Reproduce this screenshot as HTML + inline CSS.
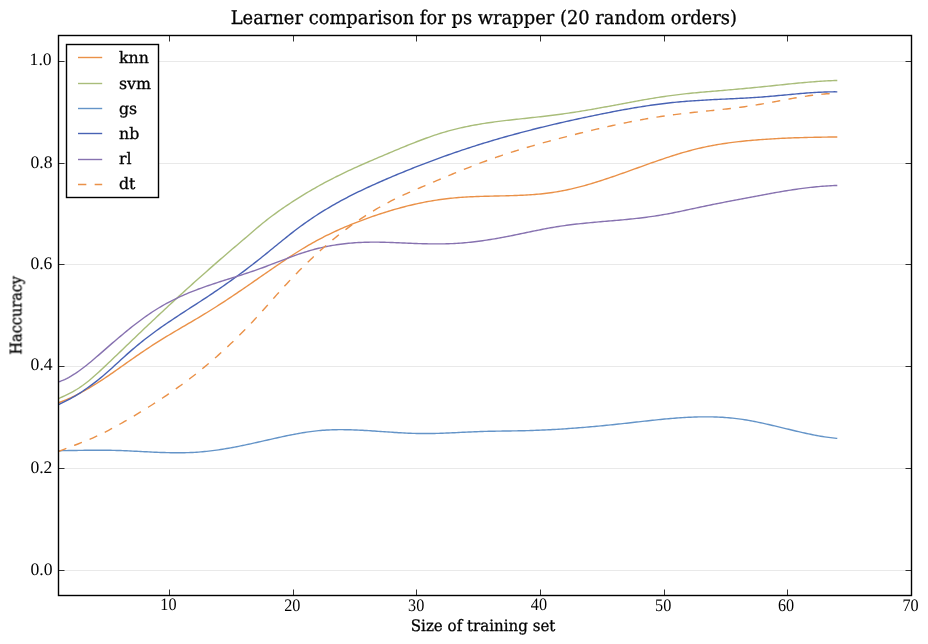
<!DOCTYPE html>
<html lang="en"><head><meta charset="utf-8"><title>Learner comparison for ps wrapper (20 random orders)</title>
<style>html,body{margin:0;padding:0;background:#fff}svg{display:block}text{text-rendering:geometricPrecision}.lab{font-family:"DejaVu Serif","Liberation Serif",serif;fill:#000;stroke:#000;stroke-width:0.3px}.num{font-family:"Liberation Serif","DejaVu Serif",serif;fill:#000}</style></head><body>
<svg width="928" height="644" viewBox="0 0 928 644">
<rect width="928" height="644" fill="#fff"/>
<g stroke="#e9e9e9" stroke-width="1" shape-rendering="crispEdges">
<line x1="58.5" x2="911.5" y1="570.5" y2="570.5"/>
<line x1="58.5" x2="911.5" y1="468.5" y2="468.5"/>
<line x1="58.5" x2="911.5" y1="366.5" y2="366.5"/>
<line x1="58.5" x2="911.5" y1="264.5" y2="264.5"/>
<line x1="58.5" x2="911.5" y1="163.5" y2="163.5"/>
<line x1="58.5" x2="911.5" y1="61.5" y2="61.5"/>
</g>
<g fill="none" stroke-width="1.4" stroke-linecap="butt" stroke-linejoin="round">
<path d="M58.6,402.75 L60.6,402.02 L62.6,401.25 L64.6,400.44 L66.6,399.60 L68.6,398.73 L70.6,397.82 L72.6,396.89 L74.6,395.92 L76.6,394.92 L78.6,393.89 L80.6,392.83 L82.6,391.75 L84.6,390.64 L86.6,389.50 L88.6,388.34 L90.6,387.16 L92.6,385.95 L94.6,384.72 L96.6,383.47 L98.6,382.20 L100.6,380.91 L102.6,379.60 L104.6,378.28 L106.6,376.93 L108.6,375.58 L110.6,374.20 L112.6,372.82 L114.6,371.42 L116.6,370.02 L118.6,368.60 L120.6,367.19 L122.6,365.77 L124.6,364.35 L126.6,362.93 L128.6,361.52 L130.6,360.11 L132.6,358.70 L134.6,357.31 L136.6,355.92 L138.6,354.55 L140.6,353.18 L142.6,351.82 L144.6,350.47 L146.6,349.14 L148.6,347.81 L150.6,346.50 L152.6,345.20 L154.6,343.91 L156.6,342.64 L158.6,341.38 L160.6,340.13 L162.6,338.90 L164.6,337.67 L166.6,336.46 L168.6,335.25 L170.6,334.05 L172.6,332.86 L174.6,331.67 L176.6,330.49 L178.6,329.31 L180.6,328.14 L182.6,326.97 L184.6,325.80 L186.6,324.63 L188.6,323.46 L190.6,322.28 L192.6,321.11 L194.6,319.93 L196.6,318.75 L198.6,317.56 L200.6,316.37 L202.6,315.17 L204.6,313.96 L206.6,312.74 L208.6,311.51 L210.6,310.27 L212.6,309.02 L214.6,307.76 L216.6,306.49 L218.6,305.21 L220.6,303.92 L222.6,302.62 L224.6,301.31 L226.6,299.99 L228.6,298.67 L230.6,297.34 L232.6,296.00 L234.6,294.65 L236.6,293.30 L238.6,291.95 L240.6,290.58 L242.6,289.22 L244.6,287.85 L246.6,286.47 L248.6,285.10 L250.6,283.71 L252.6,282.33 L254.6,280.95 L256.6,279.56 L258.6,278.17 L260.6,276.78 L262.6,275.39 L264.6,274.00 L266.6,272.61 L268.6,271.23 L270.6,269.84 L272.6,268.46 L274.6,267.09 L276.6,265.72 L278.6,264.36 L280.6,263.00 L282.6,261.65 L284.6,260.31 L286.6,258.98 L288.6,257.66 L290.6,256.35 L292.6,255.05 L294.6,253.77 L296.6,252.50 L298.6,251.24 L300.6,249.99 L302.6,248.77 L304.6,247.56 L306.6,246.36 L308.6,245.19 L310.6,244.03 L312.6,242.89 L314.6,241.78 L316.6,240.68 L318.6,239.61 L320.6,238.55 L322.6,237.51 L324.6,236.49 L326.6,235.49 L328.6,234.51 L330.6,233.54 L332.6,232.60 L334.6,231.66 L336.6,230.75 L338.6,229.84 L340.6,228.96 L342.6,228.09 L344.6,227.23 L346.6,226.38 L348.6,225.55 L350.6,224.73 L352.6,223.93 L354.6,223.13 L356.6,222.35 L358.6,221.58 L360.6,220.82 L362.6,220.07 L364.6,219.32 L366.6,218.59 L368.6,217.87 L370.6,217.16 L372.6,216.45 L374.6,215.76 L376.6,215.08 L378.6,214.41 L380.6,213.75 L382.6,213.10 L384.6,212.46 L386.6,211.83 L388.6,211.21 L390.6,210.61 L392.6,210.01 L394.6,209.43 L396.6,208.86 L398.6,208.30 L400.6,207.75 L402.6,207.22 L404.6,206.70 L406.6,206.19 L408.6,205.69 L410.6,205.20 L412.6,204.73 L414.6,204.27 L416.6,203.83 L418.6,203.39 L420.6,202.97 L422.6,202.57 L424.6,202.17 L426.6,201.80 L428.6,201.43 L430.6,201.08 L432.6,200.74 L434.6,200.41 L436.6,200.10 L438.6,199.80 L440.6,199.51 L442.6,199.24 L444.6,198.98 L446.6,198.74 L448.6,198.51 L450.6,198.29 L452.6,198.08 L454.6,197.89 L456.6,197.72 L458.6,197.55 L460.6,197.40 L462.6,197.26 L464.6,197.13 L466.6,197.01 L468.6,196.90 L470.6,196.80 L472.6,196.70 L474.6,196.62 L476.6,196.54 L478.6,196.47 L480.6,196.40 L482.6,196.34 L484.6,196.29 L486.6,196.23 L488.6,196.18 L490.6,196.14 L492.6,196.09 L494.6,196.05 L496.6,196.01 L498.6,195.96 L500.6,195.92 L502.6,195.87 L504.6,195.83 L506.6,195.78 L508.6,195.73 L510.6,195.67 L512.6,195.61 L514.6,195.54 L516.6,195.47 L518.6,195.40 L520.6,195.31 L522.6,195.22 L524.6,195.12 L526.6,195.01 L528.6,194.89 L530.6,194.76 L532.6,194.62 L534.6,194.47 L536.6,194.30 L538.6,194.13 L540.6,193.94 L542.6,193.73 L544.6,193.52 L546.6,193.28 L548.6,193.03 L550.6,192.77 L552.6,192.48 L554.6,192.18 L556.6,191.86 L558.6,191.52 L560.6,191.16 L562.6,190.79 L564.6,190.39 L566.6,189.98 L568.6,189.55 L570.6,189.10 L572.6,188.64 L574.6,188.16 L576.6,187.67 L578.6,187.16 L580.6,186.63 L582.6,186.10 L584.6,185.55 L586.6,184.99 L588.6,184.41 L590.6,183.83 L592.6,183.23 L594.6,182.62 L596.6,182.00 L598.6,181.37 L600.6,180.73 L602.6,180.09 L604.6,179.43 L606.6,178.77 L608.6,178.10 L610.6,177.42 L612.6,176.74 L614.6,176.05 L616.6,175.36 L618.6,174.66 L620.6,173.95 L622.6,173.25 L624.6,172.54 L626.6,171.82 L628.6,171.11 L630.6,170.39 L632.6,169.67 L634.6,168.95 L636.6,168.23 L638.6,167.51 L640.6,166.79 L642.6,166.07 L644.6,165.35 L646.6,164.64 L648.6,163.92 L650.6,163.21 L652.6,162.51 L654.6,161.81 L656.6,161.11 L658.6,160.42 L660.6,159.73 L662.6,159.05 L664.6,158.38 L666.6,157.71 L668.6,157.05 L670.6,156.40 L672.6,155.76 L674.6,155.12 L676.6,154.50 L678.6,153.89 L680.6,153.29 L682.6,152.69 L684.6,152.12 L686.6,151.55 L688.6,151.00 L690.6,150.46 L692.6,149.93 L694.6,149.42 L696.6,148.92 L698.6,148.44 L700.6,147.97 L702.6,147.52 L704.6,147.09 L706.6,146.66 L708.6,146.26 L710.6,145.87 L712.6,145.49 L714.6,145.12 L716.6,144.77 L718.6,144.43 L720.6,144.11 L722.6,143.79 L724.6,143.49 L726.6,143.20 L728.6,142.92 L730.6,142.65 L732.6,142.39 L734.6,142.14 L736.6,141.90 L738.6,141.67 L740.6,141.44 L742.6,141.23 L744.6,141.02 L746.6,140.82 L748.6,140.63 L750.6,140.45 L752.6,140.27 L754.6,140.10 L756.6,139.94 L758.6,139.78 L760.6,139.63 L762.6,139.48 L764.6,139.34 L766.6,139.20 L768.6,139.08 L770.6,138.95 L772.6,138.83 L774.6,138.72 L776.6,138.61 L778.6,138.50 L780.6,138.40 L782.6,138.31 L784.6,138.22 L786.6,138.13 L788.6,138.05 L790.6,137.97 L792.6,137.90 L794.6,137.82 L796.6,137.76 L798.6,137.69 L800.6,137.63 L802.6,137.58 L804.6,137.52 L806.6,137.47 L808.6,137.42 L810.6,137.37 L812.6,137.33 L814.6,137.29 L816.6,137.25 L818.6,137.21 L820.6,137.18 L822.6,137.14 L824.6,137.11 L826.6,137.08 L828.6,137.05 L830.6,137.03 L832.6,137.00 L834.6,136.97 L836.6,136.95 L837.3,136.94" stroke="#ea9148"/>
<path d="M58.6,398.53 L60.6,397.65 L62.6,396.75 L64.6,395.82 L66.6,394.87 L68.6,393.89 L70.6,392.86 L72.6,391.79 L74.6,390.67 L76.6,389.49 L78.6,388.24 L80.6,386.92 L82.6,385.53 L84.6,384.06 L86.6,382.53 L88.6,380.93 L90.6,379.28 L92.6,377.57 L94.6,375.83 L96.6,374.04 L98.6,372.22 L100.6,370.37 L102.6,368.51 L104.6,366.62 L106.6,364.73 L108.6,362.83 L110.6,360.93 L112.6,359.02 L114.6,357.11 L116.6,355.20 L118.6,353.28 L120.6,351.37 L122.6,349.45 L124.6,347.53 L126.6,345.60 L128.6,343.68 L130.6,341.76 L132.6,339.84 L134.6,337.92 L136.6,336.00 L138.6,334.09 L140.6,332.17 L142.6,330.26 L144.6,328.36 L146.6,326.46 L148.6,324.56 L150.6,322.67 L152.6,320.78 L154.6,318.89 L156.6,317.01 L158.6,315.13 L160.6,313.26 L162.6,311.39 L164.6,309.53 L166.6,307.67 L168.6,305.81 L170.6,303.96 L172.6,302.12 L174.6,300.27 L176.6,298.44 L178.6,296.60 L180.6,294.77 L182.6,292.95 L184.6,291.13 L186.6,289.31 L188.6,287.50 L190.6,285.69 L192.6,283.89 L194.6,282.09 L196.6,280.30 L198.6,278.51 L200.6,276.73 L202.6,274.95 L204.6,273.17 L206.6,271.40 L208.6,269.64 L210.6,267.88 L212.6,266.12 L214.6,264.37 L216.6,262.62 L218.6,260.88 L220.6,259.14 L222.6,257.41 L224.6,255.69 L226.6,253.96 L228.6,252.25 L230.6,250.53 L232.6,248.82 L234.6,247.12 L236.6,245.42 L238.6,243.73 L240.6,242.03 L242.6,240.34 L244.6,238.63 L246.6,236.93 L248.6,235.21 L250.6,233.49 L252.6,231.76 L254.6,230.04 L256.6,228.33 L258.6,226.64 L260.6,224.97 L262.6,223.32 L264.6,221.71 L266.6,220.12 L268.6,218.57 L270.6,217.04 L272.6,215.55 L274.6,214.07 L276.6,212.62 L278.6,211.19 L280.6,209.79 L282.6,208.40 L284.6,207.03 L286.6,205.68 L288.6,204.34 L290.6,203.02 L292.6,201.71 L294.6,200.42 L296.6,199.14 L298.6,197.88 L300.6,196.63 L302.6,195.39 L304.6,194.17 L306.6,192.96 L308.6,191.77 L310.6,190.59 L312.6,189.42 L314.6,188.27 L316.6,187.13 L318.6,186.01 L320.6,184.90 L322.6,183.80 L324.6,182.72 L326.6,181.65 L328.6,180.59 L330.6,179.55 L332.6,178.52 L334.6,177.50 L336.6,176.50 L338.6,175.51 L340.6,174.52 L342.6,173.56 L344.6,172.60 L346.6,171.65 L348.6,170.71 L350.6,169.78 L352.6,168.86 L354.6,167.94 L356.6,167.04 L358.6,166.14 L360.6,165.25 L362.6,164.37 L364.6,163.49 L366.6,162.61 L368.6,161.75 L370.6,160.88 L372.6,160.02 L374.6,159.17 L376.6,158.32 L378.6,157.47 L380.6,156.62 L382.6,155.77 L384.6,154.93 L386.6,154.09 L388.6,153.24 L390.6,152.40 L392.6,151.56 L394.6,150.72 L396.6,149.88 L398.6,149.05 L400.6,148.22 L402.6,147.39 L404.6,146.57 L406.6,145.75 L408.6,144.94 L410.6,144.13 L412.6,143.34 L414.6,142.55 L416.6,141.76 L418.6,140.99 L420.6,140.23 L422.6,139.48 L424.6,138.74 L426.6,138.01 L428.6,137.29 L430.6,136.58 L432.6,135.89 L434.6,135.21 L436.6,134.55 L438.6,133.90 L440.6,133.27 L442.6,132.66 L444.6,132.06 L446.6,131.48 L448.6,130.92 L450.6,130.37 L452.6,129.84 L454.6,129.33 L456.6,128.84 L458.6,128.36 L460.6,127.90 L462.6,127.45 L464.6,127.01 L466.6,126.59 L468.6,126.19 L470.6,125.79 L472.6,125.41 L474.6,125.04 L476.6,124.69 L478.6,124.34 L480.6,124.01 L482.6,123.68 L484.6,123.37 L486.6,123.06 L488.6,122.76 L490.6,122.48 L492.6,122.20 L494.6,121.92 L496.6,121.66 L498.6,121.40 L500.6,121.15 L502.6,120.90 L504.6,120.66 L506.6,120.42 L508.6,120.19 L510.6,119.96 L512.6,119.74 L514.6,119.51 L516.6,119.29 L518.6,119.08 L520.6,118.86 L522.6,118.65 L524.6,118.43 L526.6,118.22 L528.6,118.00 L530.6,117.79 L532.6,117.57 L534.6,117.36 L536.6,117.14 L538.6,116.92 L540.6,116.69 L542.6,116.46 L544.6,116.23 L546.6,115.99 L548.6,115.75 L550.6,115.51 L552.6,115.26 L554.6,115.00 L556.6,114.74 L558.6,114.48 L560.6,114.21 L562.6,113.94 L564.6,113.66 L566.6,113.38 L568.6,113.09 L570.6,112.79 L572.6,112.49 L574.6,112.19 L576.6,111.88 L578.6,111.57 L580.6,111.25 L582.6,110.92 L584.6,110.59 L586.6,110.26 L588.6,109.92 L590.6,109.57 L592.6,109.22 L594.6,108.87 L596.6,108.51 L598.6,108.16 L600.6,107.79 L602.6,107.43 L604.6,107.06 L606.6,106.69 L608.6,106.32 L610.6,105.95 L612.6,105.57 L614.6,105.20 L616.6,104.82 L618.6,104.45 L620.6,104.07 L622.6,103.69 L624.6,103.32 L626.6,102.95 L628.6,102.57 L630.6,102.20 L632.6,101.84 L634.6,101.47 L636.6,101.10 L638.6,100.74 L640.6,100.38 L642.6,100.03 L644.6,99.68 L646.6,99.33 L648.6,98.99 L650.6,98.65 L652.6,98.32 L654.6,97.99 L656.6,97.67 L658.6,97.35 L660.6,97.04 L662.6,96.74 L664.6,96.44 L666.6,96.15 L668.6,95.87 L670.6,95.59 L672.6,95.33 L674.6,95.07 L676.6,94.82 L678.6,94.57 L680.6,94.34 L682.6,94.11 L684.6,93.89 L686.6,93.67 L688.6,93.46 L690.6,93.26 L692.6,93.06 L694.6,92.87 L696.6,92.68 L698.6,92.49 L700.6,92.31 L702.6,92.13 L704.6,91.96 L706.6,91.78 L708.6,91.61 L710.6,91.44 L712.6,91.27 L714.6,91.10 L716.6,90.94 L718.6,90.77 L720.6,90.60 L722.6,90.43 L724.6,90.27 L726.6,90.09 L728.6,89.92 L730.6,89.75 L732.6,89.58 L734.6,89.40 L736.6,89.22 L738.6,89.04 L740.6,88.86 L742.6,88.68 L744.6,88.50 L746.6,88.31 L748.6,88.12 L750.6,87.94 L752.6,87.74 L754.6,87.55 L756.6,87.36 L758.6,87.16 L760.6,86.96 L762.6,86.76 L764.6,86.56 L766.6,86.35 L768.6,86.15 L770.6,85.94 L772.6,85.73 L774.6,85.52 L776.6,85.31 L778.6,85.10 L780.6,84.89 L782.6,84.68 L784.6,84.47 L786.6,84.26 L788.6,84.05 L790.6,83.85 L792.6,83.65 L794.6,83.45 L796.6,83.25 L798.6,83.06 L800.6,82.87 L802.6,82.69 L804.6,82.51 L806.6,82.33 L808.6,82.16 L810.6,81.99 L812.6,81.84 L814.6,81.68 L816.6,81.54 L818.6,81.40 L820.6,81.26 L822.6,81.14 L824.6,81.02 L826.6,80.91 L828.6,80.81 L830.6,80.72 L832.6,80.64 L834.6,80.57 L836.6,80.50 L837.3,80.48" stroke="#a9bd7a"/>
<path d="M58.6,450.70 L60.6,450.68 L62.6,450.65 L64.6,450.63 L66.6,450.60 L68.6,450.57 L70.6,450.53 L72.6,450.50 L74.6,450.47 L76.6,450.43 L78.6,450.40 L80.6,450.37 L82.6,450.34 L84.6,450.31 L86.6,450.28 L88.6,450.26 L90.6,450.23 L92.6,450.22 L94.6,450.20 L96.6,450.19 L98.6,450.19 L100.6,450.19 L102.6,450.20 L104.6,450.21 L106.6,450.23 L108.6,450.25 L110.6,450.29 L112.6,450.33 L114.6,450.38 L116.6,450.44 L118.6,450.50 L120.6,450.57 L122.6,450.65 L124.6,450.73 L126.6,450.82 L128.6,450.91 L130.6,451.00 L132.6,451.10 L134.6,451.20 L136.6,451.30 L138.6,451.40 L140.6,451.50 L142.6,451.60 L144.6,451.71 L146.6,451.81 L148.6,451.91 L150.6,452.00 L152.6,452.10 L154.6,452.18 L156.6,452.27 L158.6,452.35 L160.6,452.43 L162.6,452.50 L164.6,452.56 L166.6,452.62 L168.6,452.66 L170.6,452.70 L172.6,452.74 L174.6,452.76 L176.6,452.77 L178.6,452.77 L180.6,452.76 L182.6,452.74 L184.6,452.71 L186.6,452.66 L188.6,452.60 L190.6,452.53 L192.6,452.44 L194.6,452.33 L196.6,452.21 L198.6,452.08 L200.6,451.92 L202.6,451.75 L204.6,451.57 L206.6,451.36 L208.6,451.15 L210.6,450.91 L212.6,450.66 L214.6,450.40 L216.6,450.12 L218.6,449.83 L220.6,449.53 L222.6,449.21 L224.6,448.89 L226.6,448.55 L228.6,448.20 L230.6,447.84 L232.6,447.47 L234.6,447.10 L236.6,446.71 L238.6,446.32 L240.6,445.91 L242.6,445.51 L244.6,445.09 L246.6,444.67 L248.6,444.24 L250.6,443.81 L252.6,443.37 L254.6,442.93 L256.6,442.48 L258.6,442.04 L260.6,441.59 L262.6,441.13 L264.6,440.68 L266.6,440.22 L268.6,439.77 L270.6,439.31 L272.6,438.86 L274.6,438.41 L276.6,437.96 L278.6,437.52 L280.6,437.08 L282.6,436.65 L284.6,436.22 L286.6,435.80 L288.6,435.39 L290.6,434.98 L292.6,434.59 L294.6,434.21 L296.6,433.83 L298.6,433.47 L300.6,433.12 L302.6,432.78 L304.6,432.46 L306.6,432.15 L308.6,431.86 L310.6,431.59 L312.6,431.33 L314.6,431.09 L316.6,430.87 L318.6,430.66 L320.6,430.48 L322.6,430.32 L324.6,430.18 L326.6,430.05 L328.6,429.95 L330.6,429.86 L332.6,429.79 L334.6,429.73 L336.6,429.70 L338.6,429.67 L340.6,429.66 L342.6,429.67 L344.6,429.68 L346.6,429.71 L348.6,429.75 L350.6,429.81 L352.6,429.87 L354.6,429.94 L356.6,430.02 L358.6,430.11 L360.6,430.21 L362.6,430.32 L364.6,430.43 L366.6,430.55 L368.6,430.67 L370.6,430.80 L372.6,430.93 L374.6,431.06 L376.6,431.20 L378.6,431.34 L380.6,431.48 L382.6,431.62 L384.6,431.76 L386.6,431.90 L388.6,432.04 L390.6,432.17 L392.6,432.31 L394.6,432.44 L396.6,432.57 L398.6,432.69 L400.6,432.81 L402.6,432.92 L404.6,433.02 L406.6,433.12 L408.6,433.21 L410.6,433.29 L412.6,433.36 L414.6,433.42 L416.6,433.47 L418.6,433.51 L420.6,433.54 L422.6,433.56 L424.6,433.57 L426.6,433.56 L428.6,433.55 L430.6,433.52 L432.6,433.49 L434.6,433.45 L436.6,433.40 L438.6,433.34 L440.6,433.28 L442.6,433.21 L444.6,433.14 L446.6,433.06 L448.6,432.97 L450.6,432.89 L452.6,432.80 L454.6,432.70 L456.6,432.61 L458.6,432.51 L460.6,432.42 L462.6,432.32 L464.6,432.23 L466.6,432.13 L468.6,432.04 L470.6,431.95 L472.6,431.86 L474.6,431.77 L476.6,431.69 L478.6,431.61 L480.6,431.54 L482.6,431.48 L484.6,431.42 L486.6,431.36 L488.6,431.31 L490.6,431.26 L492.6,431.22 L494.6,431.18 L496.6,431.15 L498.6,431.12 L500.6,431.08 L502.6,431.06 L504.6,431.03 L506.6,431.00 L508.6,430.97 L510.6,430.94 L512.6,430.91 L514.6,430.88 L516.6,430.85 L518.6,430.81 L520.6,430.78 L522.6,430.74 L524.6,430.69 L526.6,430.64 L528.6,430.59 L530.6,430.53 L532.6,430.46 L534.6,430.39 L536.6,430.32 L538.6,430.24 L540.6,430.16 L542.6,430.07 L544.6,429.98 L546.6,429.89 L548.6,429.79 L550.6,429.68 L552.6,429.57 L554.6,429.46 L556.6,429.35 L558.6,429.23 L560.6,429.10 L562.6,428.97 L564.6,428.84 L566.6,428.71 L568.6,428.57 L570.6,428.42 L572.6,428.28 L574.6,428.13 L576.6,427.97 L578.6,427.82 L580.6,427.66 L582.6,427.49 L584.6,427.33 L586.6,427.16 L588.6,426.99 L590.6,426.81 L592.6,426.63 L594.6,426.45 L596.6,426.26 L598.6,426.08 L600.6,425.89 L602.6,425.69 L604.6,425.50 L606.6,425.30 L608.6,425.10 L610.6,424.90 L612.6,424.69 L614.6,424.48 L616.6,424.27 L618.6,424.06 L620.6,423.85 L622.6,423.63 L624.6,423.41 L626.6,423.19 L628.6,422.97 L630.6,422.75 L632.6,422.52 L634.6,422.30 L636.6,422.07 L638.6,421.84 L640.6,421.62 L642.6,421.39 L644.6,421.17 L646.6,420.95 L648.6,420.73 L650.6,420.51 L652.6,420.29 L654.6,420.08 L656.6,419.87 L658.6,419.66 L660.6,419.46 L662.6,419.26 L664.6,419.07 L666.6,418.89 L668.6,418.70 L670.6,418.53 L672.6,418.36 L674.6,418.20 L676.6,418.04 L678.6,417.90 L680.6,417.76 L682.6,417.63 L684.6,417.50 L686.6,417.39 L688.6,417.29 L690.6,417.19 L692.6,417.11 L694.6,417.03 L696.6,416.97 L698.6,416.92 L700.6,416.88 L702.6,416.85 L704.6,416.84 L706.6,416.83 L708.6,416.85 L710.6,416.87 L712.6,416.91 L714.6,416.96 L716.6,417.03 L718.6,417.11 L720.6,417.21 L722.6,417.32 L724.6,417.45 L726.6,417.60 L728.6,417.76 L730.6,417.94 L732.6,418.14 L734.6,418.36 L736.6,418.60 L738.6,418.85 L740.6,419.12 L742.6,419.42 L744.6,419.72 L746.6,420.05 L748.6,420.39 L750.6,420.75 L752.6,421.12 L754.6,421.51 L756.6,421.91 L758.6,422.32 L760.6,422.74 L762.6,423.17 L764.6,423.61 L766.6,424.06 L768.6,424.52 L770.6,424.98 L772.6,425.45 L774.6,425.92 L776.6,426.40 L778.6,426.88 L780.6,427.36 L782.6,427.85 L784.6,428.33 L786.6,428.82 L788.6,429.30 L790.6,429.78 L792.6,430.26 L794.6,430.74 L796.6,431.21 L798.6,431.67 L800.6,432.13 L802.6,432.58 L804.6,433.03 L806.6,433.46 L808.6,433.89 L810.6,434.30 L812.6,434.71 L814.6,435.10 L816.6,435.48 L818.6,435.84 L820.6,436.19 L822.6,436.52 L824.6,436.84 L826.6,437.14 L828.6,437.42 L830.6,437.68 L832.6,437.93 L834.6,438.15 L836.6,438.35 L837.3,438.41" stroke="#6494c8"/>
<path d="M58.6,404.59 L60.6,403.67 L62.6,402.72 L64.6,401.73 L66.6,400.71 L68.6,399.65 L70.6,398.56 L72.6,397.43 L74.6,396.27 L76.6,395.07 L78.6,393.83 L80.6,392.56 L82.6,391.26 L84.6,389.91 L86.6,388.53 L88.6,387.12 L90.6,385.67 L92.6,384.18 L94.6,382.66 L96.6,381.10 L98.6,379.50 L100.6,377.87 L102.6,376.20 L104.6,374.50 L106.6,372.76 L108.6,371.00 L110.6,369.21 L112.6,367.40 L114.6,365.58 L116.6,363.76 L118.6,361.92 L120.6,360.09 L122.6,358.26 L124.6,356.44 L126.6,354.64 L128.6,352.86 L130.6,351.10 L132.6,349.36 L134.6,347.66 L136.6,345.99 L138.6,344.34 L140.6,342.71 L142.6,341.11 L144.6,339.54 L146.6,337.99 L148.6,336.46 L150.6,334.95 L152.6,333.46 L154.6,331.99 L156.6,330.54 L158.6,329.11 L160.6,327.69 L162.6,326.28 L164.6,324.90 L166.6,323.52 L168.6,322.16 L170.6,320.80 L172.6,319.46 L174.6,318.13 L176.6,316.81 L178.6,315.49 L180.6,314.18 L182.6,312.87 L184.6,311.57 L186.6,310.28 L188.6,308.98 L190.6,307.69 L192.6,306.40 L194.6,305.10 L196.6,303.81 L198.6,302.51 L200.6,301.22 L202.6,299.91 L204.6,298.60 L206.6,297.29 L208.6,295.97 L210.6,294.64 L212.6,293.30 L214.6,291.95 L216.6,290.59 L218.6,289.23 L220.6,287.85 L222.6,286.47 L224.6,285.08 L226.6,283.67 L228.6,282.26 L230.6,280.84 L232.6,279.40 L234.6,277.96 L236.6,276.50 L238.6,275.04 L240.6,273.56 L242.6,272.08 L244.6,270.58 L246.6,269.07 L248.6,267.55 L250.6,266.02 L252.6,264.47 L254.6,262.92 L256.6,261.35 L258.6,259.77 L260.6,258.18 L262.6,256.57 L264.6,254.96 L266.6,253.34 L268.6,251.71 L270.6,250.08 L272.6,248.45 L274.6,246.81 L276.6,245.18 L278.6,243.55 L280.6,241.92 L282.6,240.30 L284.6,238.69 L286.6,237.08 L288.6,235.49 L290.6,233.92 L292.6,232.35 L294.6,230.81 L296.6,229.28 L298.6,227.78 L300.6,226.29 L302.6,224.83 L304.6,223.40 L306.6,221.98 L308.6,220.59 L310.6,219.22 L312.6,217.87 L314.6,216.54 L316.6,215.24 L318.6,213.95 L320.6,212.68 L322.6,211.43 L324.6,210.20 L326.6,208.99 L328.6,207.79 L330.6,206.62 L332.6,205.46 L334.6,204.31 L336.6,203.19 L338.6,202.08 L340.6,200.98 L342.6,199.90 L344.6,198.83 L346.6,197.78 L348.6,196.74 L350.6,195.71 L352.6,194.70 L354.6,193.70 L356.6,192.71 L358.6,191.73 L360.6,190.77 L362.6,189.81 L364.6,188.87 L366.6,187.93 L368.6,187.00 L370.6,186.09 L372.6,185.18 L374.6,184.27 L376.6,183.38 L378.6,182.49 L380.6,181.61 L382.6,180.74 L384.6,179.87 L386.6,179.01 L388.6,178.15 L390.6,177.30 L392.6,176.45 L394.6,175.61 L396.6,174.77 L398.6,173.94 L400.6,173.12 L402.6,172.29 L404.6,171.48 L406.6,170.66 L408.6,169.86 L410.6,169.05 L412.6,168.26 L414.6,167.46 L416.6,166.68 L418.6,165.89 L420.6,165.12 L422.6,164.34 L424.6,163.58 L426.6,162.81 L428.6,162.06 L430.6,161.30 L432.6,160.56 L434.6,159.82 L436.6,159.08 L438.6,158.35 L440.6,157.62 L442.6,156.90 L444.6,156.18 L446.6,155.47 L448.6,154.76 L450.6,154.06 L452.6,153.37 L454.6,152.67 L456.6,151.99 L458.6,151.31 L460.6,150.63 L462.6,149.96 L464.6,149.30 L466.6,148.64 L468.6,147.98 L470.6,147.33 L472.6,146.69 L474.6,146.05 L476.6,145.41 L478.6,144.78 L480.6,144.16 L482.6,143.54 L484.6,142.92 L486.6,142.32 L488.6,141.71 L490.6,141.11 L492.6,140.52 L494.6,139.93 L496.6,139.34 L498.6,138.76 L500.6,138.18 L502.6,137.61 L504.6,137.04 L506.6,136.48 L508.6,135.92 L510.6,135.37 L512.6,134.82 L514.6,134.27 L516.6,133.73 L518.6,133.20 L520.6,132.66 L522.6,132.13 L524.6,131.61 L526.6,131.09 L528.6,130.57 L530.6,130.06 L532.6,129.55 L534.6,129.04 L536.6,128.54 L538.6,128.04 L540.6,127.55 L542.6,127.06 L544.6,126.57 L546.6,126.09 L548.6,125.61 L550.6,125.13 L552.6,124.66 L554.6,124.19 L556.6,123.72 L558.6,123.26 L560.6,122.80 L562.6,122.34 L564.6,121.89 L566.6,121.43 L568.6,120.99 L570.6,120.54 L572.6,120.10 L574.6,119.66 L576.6,119.22 L578.6,118.79 L580.6,118.36 L582.6,117.93 L584.6,117.50 L586.6,117.08 L588.6,116.66 L590.6,116.24 L592.6,115.82 L594.6,115.41 L596.6,115.00 L598.6,114.59 L600.6,114.18 L602.6,113.78 L604.6,113.37 L606.6,112.98 L608.6,112.58 L610.6,112.19 L612.6,111.80 L614.6,111.42 L616.6,111.04 L618.6,110.66 L620.6,110.29 L622.6,109.92 L624.6,109.56 L626.6,109.20 L628.6,108.84 L630.6,108.49 L632.6,108.15 L634.6,107.81 L636.6,107.48 L638.6,107.15 L640.6,106.82 L642.6,106.51 L644.6,106.20 L646.6,105.89 L648.6,105.59 L650.6,105.30 L652.6,105.01 L654.6,104.73 L656.6,104.46 L658.6,104.20 L660.6,103.94 L662.6,103.69 L664.6,103.45 L666.6,103.21 L668.6,102.98 L670.6,102.76 L672.6,102.55 L674.6,102.35 L676.6,102.15 L678.6,101.96 L680.6,101.78 L682.6,101.61 L684.6,101.45 L686.6,101.29 L688.6,101.13 L690.6,100.99 L692.6,100.84 L694.6,100.71 L696.6,100.58 L698.6,100.45 L700.6,100.33 L702.6,100.21 L704.6,100.09 L706.6,99.98 L708.6,99.87 L710.6,99.77 L712.6,99.66 L714.6,99.56 L716.6,99.46 L718.6,99.37 L720.6,99.27 L722.6,99.17 L724.6,99.08 L726.6,98.98 L728.6,98.89 L730.6,98.79 L732.6,98.69 L734.6,98.60 L736.6,98.50 L738.6,98.40 L740.6,98.29 L742.6,98.19 L744.6,98.08 L746.6,97.97 L748.6,97.85 L750.6,97.74 L752.6,97.61 L754.6,97.49 L756.6,97.36 L758.6,97.22 L760.6,97.08 L762.6,96.93 L764.6,96.78 L766.6,96.62 L768.6,96.46 L770.6,96.29 L772.6,96.11 L774.6,95.94 L776.6,95.76 L778.6,95.57 L780.6,95.39 L782.6,95.20 L784.6,95.01 L786.6,94.83 L788.6,94.64 L790.6,94.45 L792.6,94.27 L794.6,94.09 L796.6,93.91 L798.6,93.73 L800.6,93.56 L802.6,93.39 L804.6,93.23 L806.6,93.07 L808.6,92.92 L810.6,92.78 L812.6,92.64 L814.6,92.52 L816.6,92.40 L818.6,92.29 L820.6,92.19 L822.6,92.10 L824.6,92.02 L826.6,91.96 L828.6,91.90 L830.6,91.86 L832.6,91.84 L834.6,91.82 L836.6,91.83 L837.3,91.83" stroke="#4862b4"/>
<path d="M58.6,381.91 L60.6,381.22 L62.6,380.44 L64.6,379.56 L66.6,378.59 L68.6,377.55 L70.6,376.42 L72.6,375.22 L74.6,373.96 L76.6,372.63 L78.6,371.24 L80.6,369.80 L82.6,368.31 L84.6,366.77 L86.6,365.19 L88.6,363.57 L90.6,361.93 L92.6,360.25 L94.6,358.55 L96.6,356.84 L98.6,355.10 L100.6,353.36 L102.6,351.61 L104.6,349.86 L106.6,348.11 L108.6,346.37 L110.6,344.63 L112.6,342.90 L114.6,341.18 L116.6,339.48 L118.6,337.78 L120.6,336.10 L122.6,334.42 L124.6,332.77 L126.6,331.13 L128.6,329.51 L130.6,327.90 L132.6,326.32 L134.6,324.76 L136.6,323.21 L138.6,321.69 L140.6,320.20 L142.6,318.73 L144.6,317.28 L146.6,315.87 L148.6,314.48 L150.6,313.12 L152.6,311.79 L154.6,310.50 L156.6,309.23 L158.6,308.00 L160.6,306.80 L162.6,305.64 L164.6,304.50 L166.6,303.40 L168.6,302.32 L170.6,301.27 L172.6,300.25 L174.6,299.26 L176.6,298.29 L178.6,297.34 L180.6,296.42 L182.6,295.52 L184.6,294.64 L186.6,293.78 L188.6,292.95 L190.6,292.13 L192.6,291.33 L194.6,290.55 L196.6,289.78 L198.6,289.03 L200.6,288.29 L202.6,287.57 L204.6,286.86 L206.6,286.16 L208.6,285.47 L210.6,284.80 L212.6,284.13 L214.6,283.47 L216.6,282.81 L218.6,282.17 L220.6,281.53 L222.6,280.89 L224.6,280.26 L226.6,279.62 L228.6,279.00 L230.6,278.37 L232.6,277.74 L234.6,277.11 L236.6,276.48 L238.6,275.85 L240.6,275.21 L242.6,274.57 L244.6,273.92 L246.6,273.27 L248.6,272.61 L250.6,271.94 L252.6,271.27 L254.6,270.58 L256.6,269.88 L258.6,269.17 L260.6,268.45 L262.6,267.72 L264.6,266.97 L266.6,266.22 L268.6,265.46 L270.6,264.69 L272.6,263.92 L274.6,263.14 L276.6,262.37 L278.6,261.59 L280.6,260.82 L282.6,260.05 L284.6,259.29 L286.6,258.53 L288.6,257.78 L290.6,257.04 L292.6,256.31 L294.6,255.59 L296.6,254.89 L298.6,254.20 L300.6,253.52 L302.6,252.86 L304.6,252.22 L306.6,251.59 L308.6,250.99 L310.6,250.40 L312.6,249.84 L314.6,249.30 L316.6,248.78 L318.6,248.28 L320.6,247.81 L322.6,247.35 L324.6,246.92 L326.6,246.51 L328.6,246.12 L330.6,245.75 L332.6,245.40 L334.6,245.07 L336.6,244.76 L338.6,244.47 L340.6,244.19 L342.6,243.94 L344.6,243.70 L346.6,243.48 L348.6,243.28 L350.6,243.10 L352.6,242.93 L354.6,242.79 L356.6,242.65 L358.6,242.54 L360.6,242.44 L362.6,242.35 L364.6,242.28 L366.6,242.23 L368.6,242.19 L370.6,242.16 L372.6,242.15 L374.6,242.14 L376.6,242.15 L378.6,242.17 L380.6,242.20 L382.6,242.24 L384.6,242.28 L386.6,242.33 L388.6,242.39 L390.6,242.46 L392.6,242.53 L394.6,242.60 L396.6,242.68 L398.6,242.76 L400.6,242.85 L402.6,242.93 L404.6,243.02 L406.6,243.10 L408.6,243.19 L410.6,243.27 L412.6,243.35 L414.6,243.43 L416.6,243.50 L418.6,243.58 L420.6,243.64 L422.6,243.70 L424.6,243.75 L426.6,243.80 L428.6,243.84 L430.6,243.88 L432.6,243.90 L434.6,243.92 L436.6,243.92 L438.6,243.92 L440.6,243.91 L442.6,243.88 L444.6,243.85 L446.6,243.80 L448.6,243.74 L450.6,243.67 L452.6,243.58 L454.6,243.48 L456.6,243.37 L458.6,243.24 L460.6,243.09 L462.6,242.94 L464.6,242.77 L466.6,242.59 L468.6,242.39 L470.6,242.18 L472.6,241.96 L474.6,241.73 L476.6,241.49 L478.6,241.24 L480.6,240.97 L482.6,240.69 L484.6,240.41 L486.6,240.11 L488.6,239.80 L490.6,239.49 L492.6,239.16 L494.6,238.83 L496.6,238.48 L498.6,238.13 L500.6,237.77 L502.6,237.40 L504.6,237.02 L506.6,236.64 L508.6,236.25 L510.6,235.85 L512.6,235.45 L514.6,235.05 L516.6,234.64 L518.6,234.22 L520.6,233.81 L522.6,233.39 L524.6,232.97 L526.6,232.56 L528.6,232.14 L530.6,231.73 L532.6,231.31 L534.6,230.90 L536.6,230.50 L538.6,230.09 L540.6,229.70 L542.6,229.31 L544.6,228.92 L546.6,228.54 L548.6,228.17 L550.6,227.81 L552.6,227.46 L554.6,227.12 L556.6,226.79 L558.6,226.47 L560.6,226.17 L562.6,225.87 L564.6,225.58 L566.6,225.31 L568.6,225.05 L570.6,224.79 L572.6,224.54 L574.6,224.30 L576.6,224.07 L578.6,223.85 L580.6,223.64 L582.6,223.43 L584.6,223.22 L586.6,223.02 L588.6,222.83 L590.6,222.64 L592.6,222.46 L594.6,222.27 L596.6,222.10 L598.6,221.92 L600.6,221.75 L602.6,221.57 L604.6,221.40 L606.6,221.23 L608.6,221.06 L610.6,220.89 L612.6,220.72 L614.6,220.55 L616.6,220.37 L618.6,220.19 L620.6,220.01 L622.6,219.83 L624.6,219.64 L626.6,219.45 L628.6,219.26 L630.6,219.06 L632.6,218.85 L634.6,218.64 L636.6,218.42 L638.6,218.19 L640.6,217.96 L642.6,217.71 L644.6,217.46 L646.6,217.20 L648.6,216.93 L650.6,216.65 L652.6,216.37 L654.6,216.07 L656.6,215.76 L658.6,215.44 L660.6,215.11 L662.6,214.77 L664.6,214.43 L666.6,214.07 L668.6,213.70 L670.6,213.33 L672.6,212.94 L674.6,212.55 L676.6,212.15 L678.6,211.74 L680.6,211.32 L682.6,210.90 L684.6,210.48 L686.6,210.05 L688.6,209.62 L690.6,209.18 L692.6,208.75 L694.6,208.32 L696.6,207.89 L698.6,207.46 L700.6,207.04 L702.6,206.61 L704.6,206.20 L706.6,205.78 L708.6,205.37 L710.6,204.96 L712.6,204.56 L714.6,204.15 L716.6,203.75 L718.6,203.36 L720.6,202.96 L722.6,202.57 L724.6,202.18 L726.6,201.79 L728.6,201.40 L730.6,201.01 L732.6,200.63 L734.6,200.25 L736.6,199.86 L738.6,199.48 L740.6,199.10 L742.6,198.72 L744.6,198.35 L746.6,197.97 L748.6,197.59 L750.6,197.21 L752.6,196.84 L754.6,196.46 L756.6,196.08 L758.6,195.71 L760.6,195.33 L762.6,194.96 L764.6,194.59 L766.6,194.22 L768.6,193.86 L770.6,193.49 L772.6,193.13 L774.6,192.78 L776.6,192.42 L778.6,192.08 L780.6,191.73 L782.6,191.40 L784.6,191.06 L786.6,190.74 L788.6,190.42 L790.6,190.10 L792.6,189.80 L794.6,189.50 L796.6,189.20 L798.6,188.92 L800.6,188.64 L802.6,188.38 L804.6,188.12 L806.6,187.87 L808.6,187.63 L810.6,187.40 L812.6,187.18 L814.6,186.97 L816.6,186.78 L818.6,186.59 L820.6,186.42 L822.6,186.26 L824.6,186.11 L826.6,185.97 L828.6,185.85 L830.6,185.74 L832.6,185.64 L834.6,185.56 L836.6,185.50 L837.3,185.48" stroke="#8772b0"/>
<path d="M58.6,451.49 L60.6,450.68 L62.6,449.88 L64.6,449.10 L66.6,448.32 L68.6,447.55 L70.6,446.79 L72.6,446.03 L74.6,445.27 L76.6,444.50 L78.6,443.73 L80.6,442.96 L82.6,442.17 L84.6,441.38 L86.6,440.57 L88.6,439.74 L90.6,438.89 L92.6,438.03 L94.6,437.14 L96.6,436.22 L98.6,435.28 L100.6,434.33 L102.6,433.35 L104.6,432.35 L106.6,431.33 L108.6,430.29 L110.6,429.24 L112.6,428.16 L114.6,427.08 L116.6,425.98 L118.6,424.86 L120.6,423.74 L122.6,422.60 L124.6,421.45 L126.6,420.29 L128.6,419.12 L130.6,417.95 L132.6,416.76 L134.6,415.57 L136.6,414.37 L138.6,413.17 L140.6,411.96 L142.6,410.73 L144.6,409.50 L146.6,408.27 L148.6,407.02 L150.6,405.76 L152.6,404.49 L154.6,403.21 L156.6,401.92 L158.6,400.62 L160.6,399.31 L162.6,397.99 L164.6,396.65 L166.6,395.30 L168.6,393.94 L170.6,392.57 L172.6,391.18 L174.6,389.78 L176.6,388.37 L178.6,386.94 L180.6,385.49 L182.6,384.04 L184.6,382.56 L186.6,381.07 L188.6,379.57 L190.6,378.05 L192.6,376.51 L194.6,374.95 L196.6,373.38 L198.6,371.79 L200.6,370.18 L202.6,368.56 L204.6,366.91 L206.6,365.25 L208.6,363.57 L210.6,361.87 L212.6,360.16 L214.6,358.42 L216.6,356.66 L218.6,354.89 L220.6,353.10 L222.6,351.29 L224.6,349.45 L226.6,347.60 L228.6,345.73 L230.6,343.84 L232.6,341.93 L234.6,340.00 L236.6,338.05 L238.6,336.07 L240.6,334.08 L242.6,332.07 L244.6,330.04 L246.6,327.98 L248.6,325.91 L250.6,323.81 L252.6,321.69 L254.6,319.55 L256.6,317.39 L258.6,315.21 L260.6,313.00 L262.6,310.77 L264.6,308.53 L266.6,306.26 L268.6,303.99 L270.6,301.71 L272.6,299.44 L274.6,297.17 L276.6,294.91 L278.6,292.66 L280.6,290.44 L282.6,288.24 L284.6,286.06 L286.6,283.90 L288.6,281.76 L290.6,279.64 L292.6,277.54 L294.6,275.46 L296.6,273.40 L298.6,271.36 L300.6,269.34 L302.6,267.34 L304.6,265.36 L306.6,263.40 L308.6,261.46 L310.6,259.54 L312.6,257.64 L314.6,255.77 L316.6,253.92 L318.6,252.08 L320.6,250.27 L322.6,248.49 L324.6,246.72 L326.6,244.98 L328.6,243.26 L330.6,241.57 L332.6,239.89 L334.6,238.25 L336.6,236.62 L338.6,235.02 L340.6,233.44 L342.6,231.89 L344.6,230.36 L346.6,228.85 L348.6,227.37 L350.6,225.91 L352.6,224.47 L354.6,223.05 L356.6,221.66 L358.6,220.29 L360.6,218.94 L362.6,217.61 L364.6,216.30 L366.6,215.02 L368.6,213.76 L370.6,212.52 L372.6,211.30 L374.6,210.10 L376.6,208.92 L378.6,207.76 L380.6,206.62 L382.6,205.50 L384.6,204.40 L386.6,203.32 L388.6,202.26 L390.6,201.22 L392.6,200.20 L394.6,199.20 L396.6,198.21 L398.6,197.24 L400.6,196.29 L402.6,195.36 L404.6,194.44 L406.6,193.54 L408.6,192.66 L410.6,191.79 L412.6,190.92 L414.6,190.06 L416.6,189.21 L418.6,188.35 L420.6,187.50 L422.6,186.65 L424.6,185.79 L426.6,184.94 L428.6,184.09 L430.6,183.24 L432.6,182.39 L434.6,181.54 L436.6,180.70 L438.6,179.86 L440.6,179.01 L442.6,178.18 L444.6,177.34 L446.6,176.51 L448.6,175.67 L450.6,174.85 L452.6,174.02 L454.6,173.20 L456.6,172.39 L458.6,171.57 L460.6,170.76 L462.6,169.96 L464.6,169.16 L466.6,168.37 L468.6,167.58 L470.6,166.79 L472.6,166.01 L474.6,165.24 L476.6,164.47 L478.6,163.71 L480.6,162.96 L482.6,162.21 L484.6,161.47 L486.6,160.73 L488.6,160.01 L490.6,159.29 L492.6,158.57 L494.6,157.87 L496.6,157.17 L498.6,156.48 L500.6,155.80 L502.6,155.13 L504.6,154.46 L506.6,153.81 L508.6,153.15 L510.6,152.51 L512.6,151.87 L514.6,151.24 L516.6,150.61 L518.6,150.00 L520.6,149.38 L522.6,148.78 L524.6,148.17 L526.6,147.58 L528.6,146.99 L530.6,146.40 L532.6,145.82 L534.6,145.25 L536.6,144.68 L538.6,144.11 L540.6,143.55 L542.6,142.99 L544.6,142.43 L546.6,141.88 L548.6,141.34 L550.6,140.80 L552.6,140.26 L554.6,139.72 L556.6,139.19 L558.6,138.66 L560.6,138.13 L562.6,137.61 L564.6,137.09 L566.6,136.58 L568.6,136.07 L570.6,135.56 L572.6,135.05 L574.6,134.55 L576.6,134.05 L578.6,133.55 L580.6,133.05 L582.6,132.56 L584.6,132.07 L586.6,131.58 L588.6,131.10 L590.6,130.62 L592.6,130.14 L594.6,129.66 L596.6,129.19 L598.6,128.72 L600.6,128.25 L602.6,127.79 L604.6,127.33 L606.6,126.88 L608.6,126.43 L610.6,125.98 L612.6,125.54 L614.6,125.10 L616.6,124.67 L618.6,124.24 L620.6,123.82 L622.6,123.40 L624.6,122.99 L626.6,122.58 L628.6,122.17 L630.6,121.78 L632.6,121.38 L634.6,121.00 L636.6,120.61 L638.6,120.24 L640.6,119.87 L642.6,119.51 L644.6,119.15 L646.6,118.80 L648.6,118.45 L650.6,118.12 L652.6,117.78 L654.6,117.46 L656.6,117.14 L658.6,116.83 L660.6,116.53 L662.6,116.23 L664.6,115.94 L666.6,115.66 L668.6,115.39 L670.6,115.12 L672.6,114.86 L674.6,114.61 L676.6,114.36 L678.6,114.11 L680.6,113.88 L682.6,113.64 L684.6,113.41 L686.6,113.19 L688.6,112.97 L690.6,112.75 L692.6,112.53 L694.6,112.32 L696.6,112.11 L698.6,111.90 L700.6,111.69 L702.6,111.48 L704.6,111.27 L706.6,111.07 L708.6,110.86 L710.6,110.65 L712.6,110.44 L714.6,110.23 L716.6,110.02 L718.6,109.81 L720.6,109.59 L722.6,109.38 L724.6,109.15 L726.6,108.93 L728.6,108.70 L730.6,108.47 L732.6,108.23 L734.6,107.99 L736.6,107.74 L738.6,107.49 L740.6,107.23 L742.6,106.96 L744.6,106.69 L746.6,106.41 L748.6,106.12 L750.6,105.83 L752.6,105.52 L754.6,105.21 L756.6,104.89 L758.6,104.56 L760.6,104.22 L762.6,103.88 L764.6,103.53 L766.6,103.17 L768.6,102.81 L770.6,102.44 L772.6,102.07 L774.6,101.70 L776.6,101.33 L778.6,100.96 L780.6,100.58 L782.6,100.21 L784.6,99.84 L786.6,99.47 L788.6,99.10 L790.6,98.74 L792.6,98.39 L794.6,98.03 L796.6,97.69 L798.6,97.35 L800.6,97.02 L802.6,96.70 L804.6,96.39 L806.6,96.09 L808.6,95.80 L810.6,95.52 L812.6,95.25 L814.6,95.00 L816.6,94.76 L818.6,94.54 L820.6,94.33 L822.6,94.14 L824.6,93.97 L826.6,93.81 L828.6,93.68 L830.6,93.56 L832.6,93.47 L834.6,93.39 L836.6,93.34 L837.3,93.33" stroke="#ea9148" stroke-dasharray="8.33 8.33"/>
</g>
<g stroke="#000" stroke-width="0.8">
<line x1="58.5" x2="64.5" y1="570.5" y2="570.5"/><line x1="911.5" x2="905.5" y1="570.5" y2="570.5"/>
<line x1="58.5" x2="64.5" y1="468.5" y2="468.5"/><line x1="911.5" x2="905.5" y1="468.5" y2="468.5"/>
<line x1="58.5" x2="64.5" y1="366.5" y2="366.5"/><line x1="911.5" x2="905.5" y1="366.5" y2="366.5"/>
<line x1="58.5" x2="64.5" y1="264.5" y2="264.5"/><line x1="911.5" x2="905.5" y1="264.5" y2="264.5"/>
<line x1="58.5" x2="64.5" y1="163.5" y2="163.5"/><line x1="911.5" x2="905.5" y1="163.5" y2="163.5"/>
<line x1="58.5" x2="64.5" y1="61.5" y2="61.5"/><line x1="911.5" x2="905.5" y1="61.5" y2="61.5"/>
<line x1="169.5" x2="169.5" y1="595.5" y2="589.5"/><line x1="169.5" x2="169.5" y1="35.5" y2="41.5"/>
<line x1="293.5" x2="293.5" y1="595.5" y2="589.5"/><line x1="293.5" x2="293.5" y1="35.5" y2="41.5"/>
<line x1="416.5" x2="416.5" y1="595.5" y2="589.5"/><line x1="416.5" x2="416.5" y1="35.5" y2="41.5"/>
<line x1="540.5" x2="540.5" y1="595.5" y2="589.5"/><line x1="540.5" x2="540.5" y1="35.5" y2="41.5"/>
<line x1="664.5" x2="664.5" y1="595.5" y2="589.5"/><line x1="664.5" x2="664.5" y1="35.5" y2="41.5"/>
<line x1="787.5" x2="787.5" y1="595.5" y2="589.5"/><line x1="787.5" x2="787.5" y1="35.5" y2="41.5"/>
</g>
<rect x="58.5" y="35.5" width="853.0" height="560.0" fill="none" stroke="#000" stroke-width="1.4"/>
<rect x="66.5" y="44.5" width="92" height="153" fill="#fff" stroke="#000" stroke-width="1.4"/>
<g fill="none" stroke-width="1.4">
<line x1="78" x2="102.2" y1="57.5" y2="57.5" stroke="#ea9148"/>
<line x1="78" x2="102.2" y1="83.5" y2="83.5" stroke="#a9bd7a"/>
<line x1="78" x2="102.2" y1="108.5" y2="108.5" stroke="#6494c8"/>
<line x1="78" x2="102.2" y1="133.5" y2="133.5" stroke="#4862b4"/>
<line x1="78" x2="102.2" y1="159.5" y2="159.5" stroke="#8772b0"/>
<line x1="78" x2="102.2" y1="184.5" y2="184.5" stroke="#ea9148" stroke-dasharray="8.33 8.33"/>
</g>
<g opacity="0.999">
<g class="num" font-size="17.6px">
<text x="52.5" y="574.8" text-anchor="end">0.0</text>
<text x="52.4" y="472.8" text-anchor="end">0.2</text>
<text x="52.6" y="369.7" text-anchor="end">0.4</text>
<text x="52.4" y="268.8" text-anchor="end">0.6</text>
<text x="52.5" y="167.8" text-anchor="end">0.8</text>
<text x="51.6" y="64.7" text-anchor="end">1.0</text>
<text transform="translate(168.4,610.1) scale(0.92,1)" text-anchor="middle">10</text>
<text transform="translate(292.3,611.0) scale(0.92,1)" text-anchor="middle">20</text>
<text transform="translate(416.2,611.0) scale(0.92,1)" text-anchor="middle">30</text>
<text transform="translate(538.9,610.1) scale(0.92,1)" text-anchor="middle">40</text>
<text transform="translate(663.2,611.0) scale(0.92,1)" text-anchor="middle">50</text>
<text transform="translate(786.1,611.0) scale(0.92,1)" text-anchor="middle">60</text>
<text transform="translate(910.6,611.0) scale(0.92,1)" text-anchor="middle">70</text>
</g>
<text class="lab" x="483.8" y="23.9" font-size="19px" text-anchor="middle" textLength="506.2" lengthAdjust="spacingAndGlyphs">Learner comparison for ps wrapper (20 random orders)</text>
<text class="lab" x="483.1" y="630.7" font-size="15.8px" text-anchor="middle" textLength="144.6" lengthAdjust="spacingAndGlyphs">Size of training set</text>
<text class="lab" transform="translate(21.4,315.3) rotate(-90)" font-size="15.8px" text-anchor="middle" textLength="78.6" lengthAdjust="spacingAndGlyphs">Haccuracy</text>
<g class="lab" font-size="15.8px">
<text x="119" y="62.7">knn</text>
<text x="119" y="88.7">svm</text>
<text x="119" y="113.5">gs</text>
<text x="119" y="138.6">nb</text>
<text x="119" y="163.7">rl</text>
<text x="119" y="188.9">dt</text>
</g>
</g>
</svg></body></html>
